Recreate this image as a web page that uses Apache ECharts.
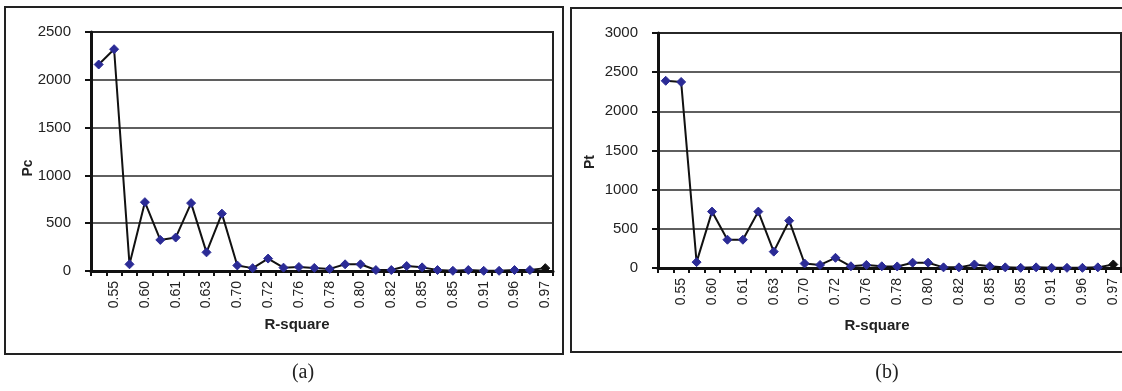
<!DOCTYPE html>
<html>
<head>
<meta charset="utf-8">
<script src="https://cdn.jsdelivr.net/npm/echarts@6/dist/echarts.min.js"></script>
<style>
html,body{margin:0;padding:0;background:#fff;}
#chart{width:1122px;height:391px;}
</style>
</head>
<body>
<div id="chart"></div>
<script>
// R-square categories (odd-index labels are shown, as in the reference)
const categories = ['0.54','0.55','0.57','0.60','0.60','0.61','0.62','0.63','0.66','0.70',
                    '0.71','0.72','0.74','0.76','0.77','0.78','0.79','0.80','0.81','0.82',
                    '0.84','0.85','0.85','0.85','0.88','0.91','0.93','0.96','0.97','0.97'];
// (a) Pc values
const pcValues = [2160, 2320, 70, 720, 325, 350, 710, 195, 600, 58,
                  30, 130, 35, 42, 32, 22, 70, 70, 10, 10,
                  52, 38, 10, 2, 10, 2, 2, 10, 10, 30];
// (b) Pt values
const ptValues = [2390, 2375, 75, 720, 361, 361, 720, 209, 604, 57,
                  39, 130, 22, 39, 22, 20, 68, 68, 8, 8,
                  45, 22, 8, 2, 8, 2, 2, 2, 8, 45];
const pcTicks = {min: 0, max: 2500, interval: 500};
const ptTicks = {min: 0, max: 3000, interval: 500};

const FONT = 'Liberation Sans, Arial, sans-serif';

function seriesData(vals) {
  return vals.map((v, i) => i === vals.length - 1
    ? {value: v, itemStyle: {color: '#111', borderColor: '#111'}, symbolSize: 9}
    : v);
}

function xAxisCfg(gridIndex) {
  return {
    type: 'category', gridIndex: gridIndex, data: categories, boundaryGap: true,
    axisLine: {show: true, lineStyle: {color: '#111', width: 3}},
    axisTick: {show: true, interval: 0, length: 5, inside: false, lineStyle: {color: '#111', width: 2}},
    axisLabel: {
      interval: (idx) => idx % 2 === 1,
      rotate: 90, margin: 10, color: '#222', fontFamily: FONT, fontSize: 14
    },
    splitLine: {show: false}
  };
}
function yAxisCfg(gridIndex, t) {
  return {
    type: 'value', gridIndex: gridIndex, min: t.min, max: t.max, interval: t.interval,
    axisLine: {show: true, lineStyle: {color: '#111', width: 3}},
    axisTick: {show: true, length: 6, lineStyle: {color: '#111', width: 2}},
    axisLabel: {margin: 20, color: '#222', fontFamily: FONT, fontSize: 15,
                formatter: (v) => String(v)},
    splitLine: {show: true, lineStyle: {color: '#2a2a2a', width: 1.6}}
  };
}
function lineSeries(idx, vals) {
  return {
    type: 'line', xAxisIndex: idx, yAxisIndex: idx, data: seriesData(vals),
    symbol: 'diamond', symbolSize: 9, showSymbol: true,
    lineStyle: {color: '#111', width: 2},
    itemStyle: {color: '#2b2b96', borderColor: '#2b2b96'},
    animation: false, z: 5
  };
}

const chart = echarts.init(document.getElementById('chart'), null, {renderer: 'canvas'});
chart.setOption({
  backgroundColor: '#fff',
  animation: false,
  grid: [
    {left: 91, top: 32, width: 462, height: 239, show: true, borderColor: '#222', borderWidth: 2, backgroundColor: 'transparent'},
    {left: 658, top: 33, width: 463, height: 235, show: true, borderColor: '#222', borderWidth: 2, backgroundColor: 'transparent'}
  ],
  xAxis: [xAxisCfg(0), xAxisCfg(1)],
  yAxis: [yAxisCfg(0, pcTicks), yAxisCfg(1, ptTicks)],
  series: [lineSeries(0, pcValues), lineSeries(1, ptValues)],
  graphic: [
    {type: 'rect', shape: {x: 5, y: 7, width: 558, height: 347}, style: {fill: 'none', stroke: '#222', lineWidth: 2}, silent: true},
    {type: 'rect', shape: {x: 571, y: 8, width: 556, height: 344}, style: {fill: 'none', stroke: '#222', lineWidth: 2}, silent: true},
    {type: 'text', x: 28, y: 168, rotation: Math.PI / 2,
     style: {text: 'Pc', fill: '#222', font: 'bold 14px ' + FONT, align: 'center', verticalAlign: 'middle'}},
    {type: 'text', x: 590, y: 162, rotation: Math.PI / 2,
     style: {text: 'Pt', fill: '#222', font: 'bold 14px ' + FONT, align: 'center', verticalAlign: 'middle'}},
    {type: 'text', x: 297, y: 325,
     style: {text: 'R-square', fill: '#222', font: 'bold 15px ' + FONT, align: 'center', verticalAlign: 'middle'}},
    {type: 'text', x: 877, y: 326,
     style: {text: 'R-square', fill: '#222', font: 'bold 15px ' + FONT, align: 'center', verticalAlign: 'middle'}},
    {type: 'text', x: 303, y: 373,
     style: {text: '(a)', fill: '#222', font: '20px Liberation Serif, Times New Roman, serif', align: 'center', verticalAlign: 'middle'}},
    {type: 'text', x: 887, y: 373,
     style: {text: '(b)', fill: '#222', font: '20px Liberation Serif, Times New Roman, serif', align: 'center', verticalAlign: 'middle'}}
  ]
});
</script>
</body>
</html>
